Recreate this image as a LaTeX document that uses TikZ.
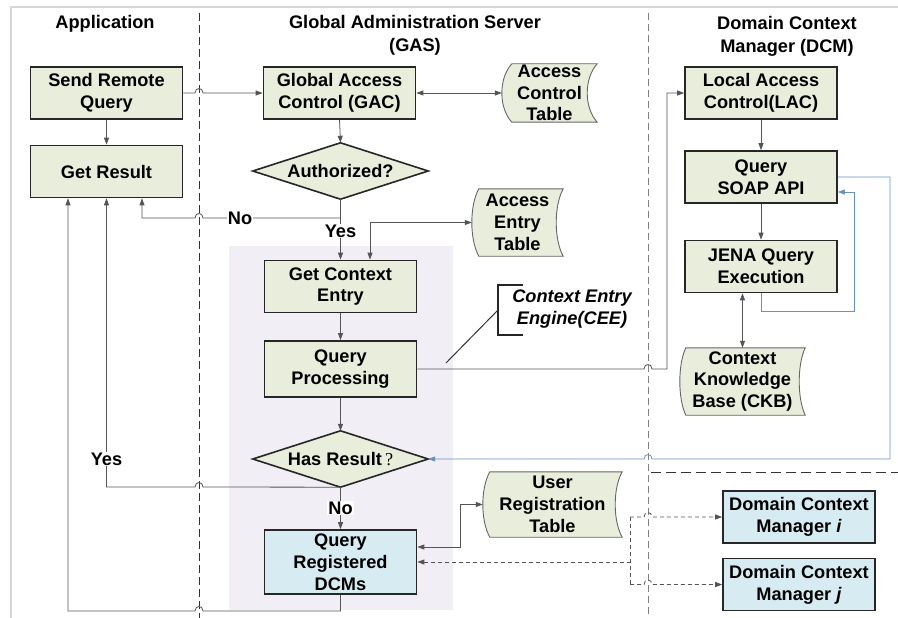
\documentclass[tikz,border=0pt]{standalone}
\usepackage{fontspec}
\setmainfont{Liberation Sans}
\newfontfamily\qfont{Liberation Serif}
\usetikzlibrary{arrows.meta,calc}
\pgfdeclarelayer{back}
\pgfdeclarelayer{shapes}
\pgfsetlayers{back,shapes,main}

\definecolor{boxfill}{RGB}{233,237,220}
\definecolor{bluefill}{RGB}{214,236,242}
\definecolor{zone}{RGB}{241,239,245}
\definecolor{linkgray}{RGB}{85,85,85}
\definecolor{feedback}{RGB}{105,145,195}
\definecolor{framegray}{RGB}{215,215,215}

\tikzset{
  every node/.style={font=\fontsize{18.2}{21.8}\selectfont\bfseries, align=center},
  procbox/.style={draw=black!85, line width=1.6pt, fill=boxfill,
    minimum width=152pt, minimum height=52pt, inner sep=0pt},
  dcmbox/.style={procbox, fill=bluefill},
  storenode/.style 2 args={minimum width=#1, minimum height=#2, inner sep=0pt},
  decision/.style={minimum width=175pt, minimum height=56pt, inner sep=0pt},
  conn/.style={draw=linkgray, line width=0.8pt},
  fb/.style={draw=feedback, line width=0.8pt},
  dconn/.style={draw=linkgray, line width=0.8pt, dash pattern=on 4pt off 3pt},
  arr/.style={-{Triangle[length=7pt,width=5pt]}},
  arrboth/.style={{Triangle[length=7pt,width=5pt]}-{Triangle[length=7pt,width=5pt]}},
  arrstart/.style={{Triangle[length=7pt,width=5pt]}-},
  lbl/.style={fill=white, inner sep=1pt},
  sepline/.style={draw=black!80, line width=0.8pt, dash pattern=on 8pt off 4pt},
  sepline2/.style={draw=black!50, line width=0.8pt, dash pattern=on 7pt off 4pt},
  storeline/.style={draw=black!60, line width=0.9pt, fill=boxfill},
  diamline/.style={draw=black!85, line width=1.6pt, fill=boxfill},
}

% stored-data outline around a node: convex left side, concave right side
\newcommand\storedshape[2][8]{%
  \begin{pgfonlayer}{shapes}
  \draw[storeline] let \p1=(#2.north west), \p2=(#2.south east) in
    (\x1+#1pt,\y1) -- (\x2,\y1)
    .. controls (\x2-1.33*#1pt,0.75*\y1+0.25*\y2) and (\x2-1.33*#1pt,0.25*\y1+0.75*\y2) .. (\x2,\y2)
    -- (\x1+#1pt,\y2)
    .. controls (\x1-0.33*#1pt,0.25*\y1+0.75*\y2) and (\x1-0.33*#1pt,0.75*\y1+0.25*\y2) .. (\x1+#1pt,\y1)
    -- cycle;
  \end{pgfonlayer}}

% decision diamond around a node
\newcommand\diamondshape[1]{%
  \begin{pgfonlayer}{shapes}
  \draw[diamline] (#1.west) -- (#1.north) -- (#1.east) -- (#1.south) -- cycle;
  \end{pgfonlayer}}

\begin{document}
\begin{tikzpicture}[x=1pt,y=-1pt]
\useasboundingbox (0,0) rectangle (898,618);

% frame and shaded engine zone
\begin{pgfonlayer}{back}
  \draw[framegray, line width=2.5pt] (11,618) -- (11,7) -- (898,7);
  \fill[zone] (229,246) rectangle (453,610);
\end{pgfonlayer}

% lane separators
\draw[sepline] (199,13) -- (199,618);
\draw[sepline2] (648,13) -- (648,618);
\draw[sepline, dash pattern=on 10pt off 5pt] (651,472) -- (898,472);

% lane titles
\node (happ) at (105,24) {Application};
\node[font=\fontsize{18.2}{23}\selectfont\bfseries] (hgas) at (415,35.5) {Global Administration Server\\(GAS)};
\node[font=\fontsize{18.2}{23}\selectfont\bfseries] (hdcm) at (787,36) {Domain Context\\Manager (DCM)};

% application lane
\node[procbox] (srq) at (106.5,93) {Send Remote\\Query};
\node[procbox] (gr) at (106.5,171.5) {Get Result};

% global administration server lane
\node[procbox] (gac) at (339.5,93) {Global Access\\Control (GAC)};
\node[decision] (auth) at (340.5,171) {Authorized?};
\diamondshape{auth}
\node[storenode={95pt}{58pt}] (act) at (549.5,93) {Access\\Control\\Table};
\storedshape[10]{act}
\node[storenode={91pt}{67pt}] (aet) at (517.5,222.5) {Access\\Entry\\Table};
\storedshape[7]{aet}
\node[procbox] (gce) at (340.5,286.5) {Get Context\\Entry};
\node[procbox, minimum height=56pt] (qp) at (340.5,369) {Query\\Processing};
\node[decision] (hr) at (340.5,459) {Has Result{\qfont\mdseries\,?}};
\diamondshape{hr}
\node[dcmbox, minimum height=64pt] (qrd) at (340.5,562) {Query\\Registered\\DCMs};
\node[storenode={139pt}{65pt}] (urt) at (552.5,504.5) {User\\Registration\\Table};
\storedshape[7]{urt}

% context entry engine callout
\node[font=\fontsize{18.2}{21.8}\selectfont\bfseries\itshape] (cee) at (572,309) {Context Entry\\Engine(CEE)};
\coordinate (brTop) at (498,285);
\coordinate (brBot) at (498,335);
\coordinate (brMid) at (498,310);
\coordinate (ceeTip) at (446,363);
\draw[black!85, line width=1.2pt] (523,285) -- (brTop) -- (brBot) -- (523,335);
\draw[black!80, line width=1pt] (brMid) -- (ceeTip);

% domain context manager lane
\node[procbox] (lac) at (761,93) {Local Access\\Control(LAC)};
\node[procbox] (soap) at (761,177) {Query\\SOAP API};
\node[procbox] (jena) at (761,266.5) {JENA Query\\Execution};
\node[storenode={125pt}{67pt}] (ckb) at (742.5,381.5) {Context\\Knowledge\\Base (CKB)};
\storedshape[6]{ckb}
\node[dcmbox] (dcmi) at (799,517) {Domain Context\\Manager \textit{i}};
\node[dcmbox] (dcmj) at (799,584.5) {Domain Context\\Manager \textit{j}};

% main flow
\draw[conn,arr] (srq.east) -- (195,93) .. controls (195,87) and (203,87) .. (203,93) -- (gac.west);
\draw[conn,arrboth] (gac.east) -- (act.west);
\draw[conn,arr] (srq.south) -- (gr.north);
\draw[conn,arr] (gac.south) -- (auth.north);
\draw[conn,arr] (auth.south) -- (340.5,218) -- (203,218) .. controls (203,212) and (195,212) .. (195,218)
  -- (142,218) -- ([xshift=35.5pt]gr.south);
\node[lbl] (lno1) at (240,218) {No};
\draw[conn,arr] (auth.south) -- (gce.north);
\node[lbl] (lyes1) at (340.5,231) {Yes};
\draw[conn,arrboth] ([xshift=29.5pt]gce.north) |- (aet.west);
\draw[conn,arr] (gce.south) -- (qp.north);
\draw[conn,arr] (qp.south) -- (hr.north);
\draw[conn,arr] (hr.south) -- (203,487) .. controls (203,481) and (195,481) .. (195,487)
  -- (106.5,487) -- (gr.south);
\node[lbl] (lyes2) at (106.5,459) {Yes};
\draw[conn,arr] (hr.south) -- (qrd.north);
\node[lbl] (lno2) at (340.5,508) {No};
\draw[conn,arr] (qrd.south) -- (340.5,611) -- (203,611) .. controls (203,605) and (195,605) .. (195,611)
  -- (68,611) -- ([xshift=-38.5pt]gr.south);

% query forwarded to the local access control
\draw[conn,arr] (qp.east) -- (644,369) .. controls (644,363) and (652,363) .. (652,369) -- (667,369) |- (lac.west);
\draw[conn,arr] (lac.south) -- (soap.north);
\draw[conn,arr] (soap.south) -- (jena.north);
\draw[conn,arrboth] (ckb.north) -- (ckb.north |- jena.south);

% result feedback
\draw[fb,arr] (jena.south) -- ++(0,18) -| (854,192) -- ([yshift=-15pt]soap.east);
\draw[fb,arr] (soap.east) -- (890,177) -- (890,459) -- (652,459) .. controls (652,453) and (644,453) .. (644,459) -- (hr.east);

% registered managers
\draw[conn,arrboth] ([yshift=15pt]qrd.east) -| (460,504.5) -- (urt.west);
\coordinate (fork) at (630,562);
\draw[dconn,arrstart] (qrd.east) -- (fork);
\draw[dconn] (fork |- dcmi.west) -- (fork |- dcmj.west);
\draw[dconn,arr] (fork |- dcmi.west) -- (644,517) .. controls (644,511) and (652,511) .. (652,517) -- (dcmi.west);
\draw[dconn,arr] (fork |- dcmj.west) -- (644,584.5) .. controls (644,578.5) and (652,578.5) .. (652,584.5) -- (dcmj.west);
\end{tikzpicture}
\end{document}
